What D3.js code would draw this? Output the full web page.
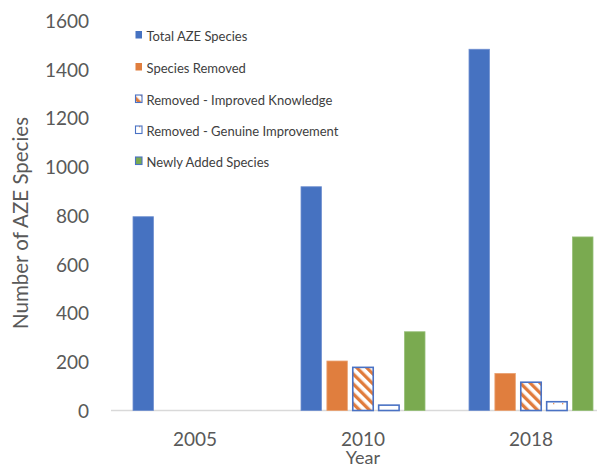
<!DOCTYPE html>
<html><head><meta charset="utf-8">
<script src="https://cdn.jsdelivr.net/npm/d3@7"></script>
<style>body{margin:0;background:#fff}svg{display:block}</style>
</head><body>
<svg id="c" width="604" height="468"></svg>
<script>
const years = ["2005", "2010", "2018"];
const seriesNames = ["Total AZE Species", "Species Removed", "Removed - Improved Knowledge", "Removed - Genuine Improvement", "Newly Added Species"];
const totalAZE = [795, 918, 1482];
const speciesRemoved = [0, 203, 152];
const improvedKnowledge = [0, 177, 116];
const genuineImprovement = [0, 22, 36];
const newlyAdded = [0, 323, 712];
const yTicks = [0, 200, 400, 600, 800, 1000, 1200, 1400, 1600];

const valuesBySeries = [totalAZE, speciesRemoved, improvedKnowledge, genuineImprovement, newlyAdded];
const data = years.map((y, i) => ({year: y, vals: seriesNames.map((s, j) => ({series: s, idx: j, value: valuesBySeries[j][i]}))}));

const svg = d3.select("#c");
const defs = svg.append("defs");
const hatch = defs.append("pattern").attr("id", "hatch").attr("patternUnits", "userSpaceOnUse")
  .attr("width", 7).attr("height", 7).attr("patternTransform", "rotate(-45)");
hatch.append("rect").attr("width", 7).attr("height", 7).attr("fill", "#fff");
hatch.append("rect").attr("x", 0).attr("y", 0).attr("width", 3.3).attr("height", 7).attr("fill", "#E07B3C");
const dots = defs.append("pattern").attr("id", "dots").attr("patternUnits", "userSpaceOnUse")
  .attr("width", 9).attr("height", 8);
dots.append("rect").attr("width", 9).attr("height", 8).attr("fill", "#fff");
dots.append("rect").attr("x", 4).attr("y", 3).attr("width", 1.3).attr("height", 1.3).attr("fill", "#E8965A");

const fills = ["#4672C1", "#E07E3E", "url(#hatch)", "url(#dots)", "#7AAA50"];
const strokes = ["#6F8FCF", "#E9A070", "#4A72C4", "#4A72C4", "#95BD75"];
const strokeW = [0.8, 0.8, 1.6, 1.6, 0.8];
const font = "Lato, 'Open Sans', sans-serif";

const x0 = d3.scaleBand().domain(years).range([111, 615]);
const x1 = d3.scaleBand().domain(seriesNames).range([-62, 62]).paddingInner(0.21);
const y = d3.scaleLinear().domain([0, 1600]).range([410.5, 20.5]);

// Y axis (no line)
const yAxis = svg.append("g").attr("transform", "translate(89,0)")
  .call(d3.axisLeft(y).tickValues(yTicks).tickFormat(d3.format("d")).tickSize(0).tickPadding(0));
yAxis.select(".domain").remove();
yAxis.selectAll("text").attr("font-family", font).attr("font-size", 19)
  .attr("fill", "#595959").attr("dy", "0.36em");

// X axis
const xAxis = svg.append("g").attr("transform", "translate(0,410.5)")
  .call(d3.axisBottom(x0).tickSize(0).tickPadding(22));
xAxis.select(".domain").attr("d", "M111,0H597").attr("stroke", "#D9D9D9").attr("stroke-width", 1.3);
xAxis.selectAll("text").attr("font-family", font).attr("font-size", 19).attr("fill", "#595959");

// Bars
const groups = svg.selectAll("g.grp").data(data).join("g").attr("class", "grp")
  .attr("transform", d => `translate(${x0(d.year) + x0.bandwidth() / 2},0)`);
groups.selectAll("rect").data(d => d.vals.filter(v => v.value > 0)).join("rect")
  .attr("x", d => x1(d.series)).attr("width", x1.bandwidth())
  .attr("y", d => y(d.value)).attr("height", d => y(0) - y(d.value))
  .attr("fill", d => fills[d.idx]).attr("stroke", d => strokes[d.idx]).attr("stroke-width", d => strokeW[d.idx]);

// Axis titles
svg.append("text").attr("x", 363).attr("y", 464).attr("text-anchor", "middle")
  .attr("font-family", font).attr("font-size", 18).attr("fill", "#595959").text("Year");
svg.append("text").attr("transform", "translate(28,223) rotate(-90)").attr("text-anchor", "middle")
  .attr("font-family", font).attr("font-size", 20.5).attr("fill", "#595959").text("Number of AZE Species");

// Legend
const legY = [36, 68, 100, 131, 162];
const leg = svg.selectAll("g.leg").data(seriesNames).join("g").attr("class", "leg")
  .attr("transform", (d, i) => `translate(135,${legY[i]})`);
leg.append("rect").attr("x", 0.5).attr("y", -5).attr("width", 6.5).attr("height", 7.5)
  .attr("fill", (d, i) => fills[i]).attr("stroke", (d, i) => i >= 2 ? "#4A72C4" : "none").attr("stroke-width", 1.1);
leg.append("text").attr("x", 11.5).attr("y", 0).attr("dy", "0.35em")
  .attr("font-family", font).attr("font-size", 13).attr("fill", "#404040").text(d => d);
</script>
</body></html>
